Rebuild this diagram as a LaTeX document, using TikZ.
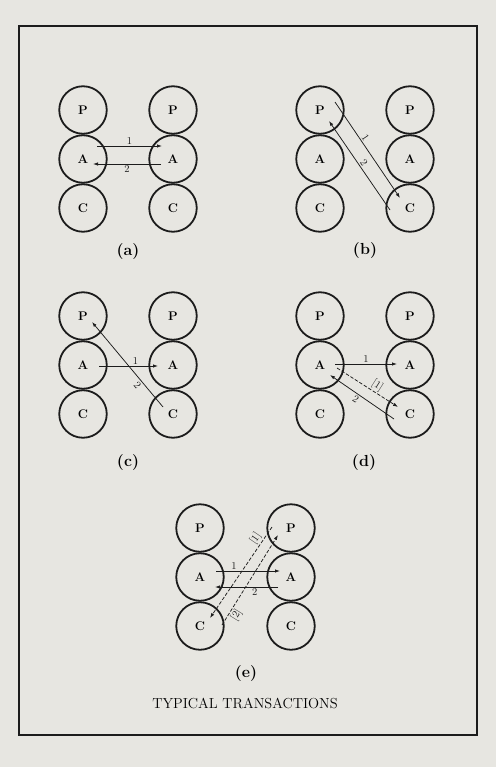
\documentclass[tikz,border=0pt]{standalone}
\usepackage{tikz}
\usetikzlibrary{arrows.meta,calc,positioning}
\definecolor{paper}{RGB}{231,230,225}
\definecolor{ink}{RGB}{28,28,28}
\newcommand{\Pile}[3]{
\node [disc] (#1P) at (#2,#3) {P};
\node [disc] (#1A) at (#2,#3+49) {A};
\node [disc] (#1C) at (#2,#3+98) {C};
}

\begin{document}
\begin{tikzpicture}[x=1pt,y=-1pt,
  disc/.style={circle,draw=ink,line width=1.8pt,minimum size=47.5pt,inner sep=0pt,
    font=\bfseries\fontsize{12.5}{12.5}\selectfont},
  msg/.style={ink,line width=0.75pt,-{Latex[length=5pt,width=3.4pt]}},
  ulterior/.style={msg,dash pattern=on 3.5pt off 1.8pt},
  num/.style={font=\fontsize{10.5}{10.5}\selectfont,inner sep=1.5pt},
  panel/.style={font=\bfseries\fontsize{16}{16}\selectfont},
  caption/.style={font=\fontsize{14.5}{14.5}\selectfont}]
\fill[paper] (0,0) rectangle (496,767);
\useasboundingbox (0,0) rectangle (496,767);
\draw[ink,line width=1.3pt] (19,26) rectangle (477,735);

\Pile{aL}{83}{110}
\Pile{aR}{173}{110}
\draw[msg] ($(aLA)+(14,-13)$) -- node[num,above] (a1) {1} ($(aRA)+(-11,-13)$);
\draw[msg] ($(aRA)+(-12,5)$) -- node[num,below] (a2) {2} ($(aLA)+(10,5)$);
\node[panel] (alab) at (128,252) {(a)};

\Pile{bL}{320}{110}
\Pile{bR}{410}{110}
\draw[msg] ($(bLP)+(15,-8)$) -- node[num,pos=0.4,sloped,above] (b1) {1} ($(bRC)+(-10,-10)$);
\draw[msg] ($(bRC)+(-20,2)$) -- node[num,pos=0.5,sloped,above] (b2) {2} ($(bLP)+(9,11)$);
\node[panel] (blab) at (365,251) {(b)};

\Pile{cL}{83}{316}
\Pile{cR}{173}{316}
\draw[msg] ($(cLA)+(16,1)$) -- node[num,pos=0.62,above] (c1) {1} ($(cRA)+(-15,1)$);
\draw[msg] ($(cRC)+(-10,-7)$) -- node[num,pos=0.3,sloped,below] (c2) {2} ($(cLP)+(9,6)$);
\node[panel] (clab) at (128,463) {(c)};

\Pile{dL}{320}{316}
\Pile{dR}{410}{316}
\draw[msg] ($(dLA)+(15,-1)$) -- node[num,above] (d1) {1} ($(dRA)+(-13,-1)$);
\draw[ulterior] ($(dLA)+(17,3)$) -- node[num,pos=0.6,sloped,above] (d11) {[1]} ($(dRC)+(-12,-7)$);
\draw[msg] ($(dRC)+(-16,5)$) -- node[num,pos=0.55,sloped,below] (d2) {2} ($(dLA)+(10,10)$);
\node[panel] (dlab) at (364,463) {(d)};

\Pile{eL}{200}{528}
\Pile{eR}{291}{528}
\draw[msg] ($(eLA)+(16,-6)$) -- node[num,pos=0.28,above] (e1) {1} ($(eRA)+(-11,-6)$);
\draw[msg] ($(eRA)+(-13,10)$) -- node[num,pos=0.37,below] (e2) {2} ($(eLA)+(15,10)$);
\draw[ulterior] ($(eRP)+(-19,-1)$) -- node[num,pos=0.17,sloped,above] (e11) {[1]} ($(eLC)+(10,-8)$);
\draw[ulterior] ($(eLC)+(22,-1)$) -- node[num,pos=0.15,sloped,below] (e22) {[2]} ($(eRP)+(-13,7)$);
\node[panel] (elab) at (246,673) {(e)};

\node[caption] (title) at (245,703) {TYPICAL TRANSACTIONS};
\end{tikzpicture}
\end{document}
